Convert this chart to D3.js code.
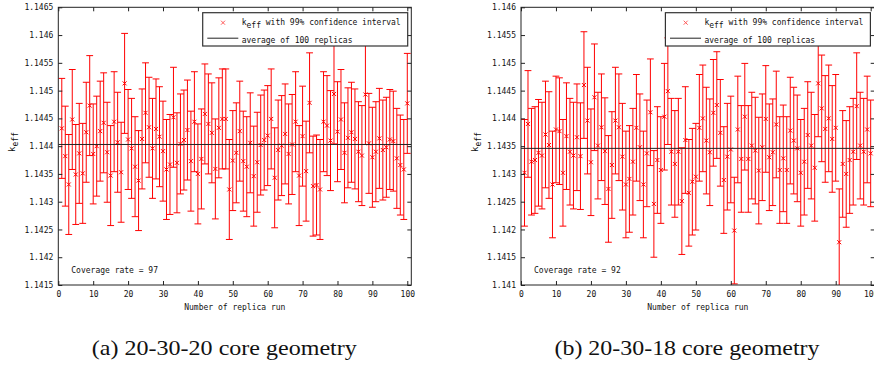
<!DOCTYPE html>
<html>
<head>
<meta charset="utf-8">
<script src="https://cdn.jsdelivr.net/npm/d3@7"></script>
<style>
  body { margin: 0; background: #fff; }
  svg { display: block; }
  .mono { font-family: "DejaVu Sans Mono", monospace; }
  .caption { font-family: "Liberation Serif", serif; }
</style>
</head>
<body>
<svg id="chart" width="874" height="365"></svg>
<script>
// Replica run numbers (x categories)
const runs = d3.range(1, 101);

// x axis ticks
const xTicks = [0, 10, 20, 30, 40, 50, 60, 70, 80, 90, 100];

// (a) 20-30-20 core: keff per replica, 99% CI half-width, average
const keffA = [
  1.14432, 1.14382, 1.14331, 1.14448, 1.14349, 1.14387, 1.14351, 1.14425, 1.14473, 1.14386,
  1.14400, 1.14427, 1.14442, 1.14389, 1.14347, 1.14444, 1.14407, 1.14353, 1.14513, 1.14412,
  1.14396, 1.14363, 1.14338, 1.14413, 1.14460, 1.14434, 1.14396, 1.14431, 1.14417, 1.14391,
  1.14358, 1.14367, 1.14452, 1.14370, 1.14404, 1.14411, 1.14429, 1.14373, 1.14444, 1.14350,
  1.14377, 1.14458, 1.14440, 1.14424, 1.14359, 1.14433, 1.14449, 1.14449, 1.14322, 1.14374,
  1.14388, 1.14427, 1.14373, 1.14363, 1.14406, 1.14346, 1.14371, 1.14402, 1.14411, 1.14419,
  1.14449, 1.14343, 1.14393, 1.14401, 1.14422, 1.14386, 1.14403, 1.14444, 1.14347, 1.14418,
  1.14355, 1.14478, 1.14328, 1.14330, 1.14322, 1.14444, 1.14437, 1.14410, 1.14494, 1.14426,
  1.14448, 1.14388, 1.14415, 1.14425, 1.14413, 1.14390, 1.14383, 1.14493, 1.14405, 1.14380,
  1.14390, 1.14414, 1.14393, 1.14398, 1.14412, 1.14409, 1.14378, 1.14366, 1.14358, 1.14477
];
const halfA = 0.00090;
const avgA = 1.14403;
const yTicksA = [1.1415, 1.142, 1.1425, 1.143, 1.1435, 1.144, 1.1445, 1.145, 1.1455, 1.146, 1.1465];
const yLabelsA = ["1.1415", "1.142", "1.1425", "1.143", "1.1435", "1.144", "1.1445", "1.145", "1.1455", "1.146", "1.1465"];

// (b) 20-30-18 core
const keffB = [
  1.14302, 1.14390, 1.14322, 1.14325, 1.14338, 1.14333, 1.14371, 1.14352, 1.14281, 1.14380,
  1.14377, 1.14302, 1.14368, 1.14340, 1.14333, 1.14366, 1.14332, 1.14460, 1.14396, 1.14321,
  1.14438, 1.14351, 1.14384, 1.14341, 1.14273, 1.14316, 1.14396, 1.14384, 1.14331, 1.14281,
  1.14291, 1.14322, 1.14383, 1.14348, 1.14281, 1.14337, 1.14411, 1.14246, 1.14325, 1.14307,
  1.14403, 1.14449, 1.14340, 1.14318, 1.14340, 1.14251, 1.14361, 1.14266, 1.14286, 1.14295,
  1.14383, 1.14400, 1.14360, 1.14339, 1.14410, 1.14424, 1.14374, 1.14289, 1.14331, 1.14344,
  1.14198, 1.14380, 1.14327, 1.14403, 1.14327, 1.14351, 1.14342, 1.14306, 1.14348, 1.14399,
  1.14330, 1.14339, 1.14389, 1.14307, 1.14328, 1.14307, 1.14378, 1.14360, 1.14346, 1.14302,
  1.14322, 1.14370, 1.14351, 1.14311, 1.14463, 1.14418, 1.14381, 1.14400, 1.14363, 1.14383,
  1.14177, 1.14318, 1.14300, 1.14325, 1.14340, 1.14422, 1.14351, 1.14340, 1.14380, 1.14337
];
const halfB = 0.00096;
const avgB = 1.14346;
const yTicksB = [1.141, 1.1415, 1.142, 1.1425, 1.143, 1.1435, 1.144, 1.1445, 1.145, 1.1455, 1.146];
const yLabelsB = ["1.141", "1.1415", "1.142", "1.1425", "1.143", "1.1435", "1.144", "1.1445", "1.145", "1.1455", "1.146"];

const coverage = [97, 92];
const captions = ["(a) 20-30-20 core geometry", "(b) 20-30-18 core geometry"];
const xTitle = "Number of replica run";
const legendLabels = ["with 99% confidence interval", "average of 100 replicas"];

const svg = d3.select("#chart");
svg.append("rect").attr("width", 874).attr("height", 365).attr("fill", "#fff");

const panels = [
  { keff: keffA, half: halfA, avg: avgA, ticks: yTicksA, labels: yLabelsA, x0: 58.3, x1: 411.3 },
  { keff: keffB, half: halfB, avg: avgB, ticks: yTicksB, labels: yLabelsB, x0: 521, x1: 874.7 }
];
const TOP = 7.3, BOTTOM = 285;
const RED = "#ff0000";
const FS = "8px";
const INK = "#111";

panels.forEach((p, k) => {
  const g = svg.append("g");
  const x = d3.scaleLinear().domain([0, 101.15]).range([p.x0, p.x1]);
  const y = d3.scaleLinear().domain([p.ticks[0], p.ticks[p.ticks.length - 1]]).range([BOTTOM, TOP]);
  const labelOf = new Map(p.ticks.map((t, i) => [t, p.labels[i]]));

  const clipId = "clip" + k;
  g.append("clipPath").attr("id", clipId)
    .append("rect").attr("x", p.x0).attr("y", TOP).attr("width", p.x1 - p.x0).attr("height", BOTTOM - TOP);

  // error bars with caps and x markers
  const plot = g.append("g").attr("clip-path", `url(#${clipId})`);
  const bars = plot.selectAll("g.bar").data(runs.map((r, i) => ({ r, v: p.keff[i] })))
    .join("g").attr("class", "bar");
  bars.append("line")
    .attr("x1", d => x(d.r)).attr("x2", d => x(d.r))
    .attr("y1", d => y(d.v - p.half)).attr("y2", d => y(d.v + p.half))
    .attr("stroke", RED).attr("stroke-width", 1);
  [-1, 1].forEach(s => {
    bars.append("line")
      .attr("x1", d => x(d.r) - 3.4).attr("x2", d => x(d.r) + 3.4)
      .attr("y1", d => y(d.v + s * p.half)).attr("y2", d => y(d.v + s * p.half))
      .attr("stroke", RED).attr("stroke-width", 1);
  });
  bars.append("path")
    .attr("transform", d => `translate(${x(d.r)},${y(d.v)})`)
    .attr("d", "M-2,-2L2,2M-2,2L2,-2")
    .attr("stroke", RED).attr("stroke-width", 1).attr("fill", "none");

  // average line
  plot.append("line")
    .attr("x1", p.x0).attr("x2", p.x1)
    .attr("y1", y(p.avg)).attr("y2", y(p.avg))
    .attr("stroke", "#222").attr("stroke-width", 1);

  // axes with inward ticks on all four sides
  const axB = g.append("g").attr("transform", `translate(0,${BOTTOM})`)
    .call(d3.axisBottom(x).tickValues(xTicks).tickSizeInner(-4).tickSizeOuter(0).tickPadding(6));
  const axT = g.append("g").attr("transform", `translate(0,${TOP})`)
    .call(d3.axisTop(x).tickValues(xTicks).tickSizeInner(-4).tickSizeOuter(0).tickFormat(""));
  const axL = g.append("g").attr("transform", `translate(${p.x0},0)`)
    .call(d3.axisLeft(y).tickValues(p.ticks).tickSizeInner(-4).tickSizeOuter(0).tickPadding(5)
      .tickFormat(t => labelOf.get(t)));
  const axR = g.append("g").attr("transform", `translate(${p.x1},0)`)
    .call(d3.axisRight(y).tickValues(p.ticks).tickSizeInner(-4).tickSizeOuter(0).tickFormat(""));
  [axB, axT, axL, axR].forEach(a => {
    a.select(".domain").remove();
    a.selectAll(".tick line").attr("stroke", "#222");
    a.selectAll("text").attr("class", "mono").attr("font-family", null)
      .style("font-size", FS).attr("fill", INK);
  });

  // axes box
  g.append("rect")
    .attr("x", p.x0).attr("y", TOP).attr("width", p.x1 - p.x0).attr("height", BOTTOM - TOP)
    .attr("fill", "none").attr("stroke", "#222").attr("stroke-width", 1);

  // legend
  const lx = p.x0 + 144.4, ly = 12.7;
  const lg = g.append("g");
  lg.append("rect").attr("x", lx).attr("y", ly).attr("width", 205).attr("height", 33.3)
    .attr("fill", "#fff").attr("stroke", "#333").attr("stroke-width", 1.2);
  lg.append("path").attr("transform", `translate(${lx + 20.3},${ly + 10})`)
    .attr("d", "M-2,-2L2,2M-2,2L2,-2").attr("stroke", "#ff5a5a").attr("fill", "none");
  const t1 = lg.append("text").attr("class", "mono").attr("x", lx + 39).attr("y", ly + 12.5)
    .style("font-size", FS).attr("fill", INK);
  t1.append("tspan").text("k");
  t1.append("tspan").attr("dy", 3).style("font-size", "8px").text("eff");
  t1.append("tspan").attr("dy", -3).text(" " + legendLabels[0]);
  lg.append("line").attr("x1", lx + 4.6).attr("x2", lx + 35.6).attr("y1", ly + 25.5).attr("y2", ly + 25.5)
    .attr("stroke", "#222");
  lg.append("text").attr("class", "mono").attr("x", lx + 39).attr("y", ly + 30)
    .style("font-size", FS).attr("fill", INK).text(legendLabels[1]);

  // coverage annotation
  g.append("text").attr("class", "mono").attr("x", p.x0 + 13).attr("y", 272.5)
    .style("font-size", FS).attr("fill", INK).text("Coverage rate = " + coverage[k]);

  // axis titles
  g.append("text").attr("class", "mono").attr("x", (p.x0 + p.x1) / 2).attr("y", 310)
    .attr("text-anchor", "middle").style("font-size", FS).attr("fill", INK).text(xTitle);
  const yt = g.append("text").attr("class", "mono")
    .attr("transform", `translate(${p.x0 - 43},152) rotate(-90)`)
    .style("font-size", "9px").attr("fill", INK);
  yt.append("tspan").text("k");
  yt.append("tspan").attr("dy", 3).style("font-size", "8px").text("eff");

  // sub-figure caption
  svg.append("text").attr("class", "caption").attr("x", p.x0 + 166).attr("y", 355)
    .attr("text-anchor", "middle").style("font-size", "21px").attr("fill", INK)
    .attr("textLength", 265).attr("lengthAdjust", "spacingAndGlyphs")
    .text(captions[k]);
});
</script>
</body>
</html>
